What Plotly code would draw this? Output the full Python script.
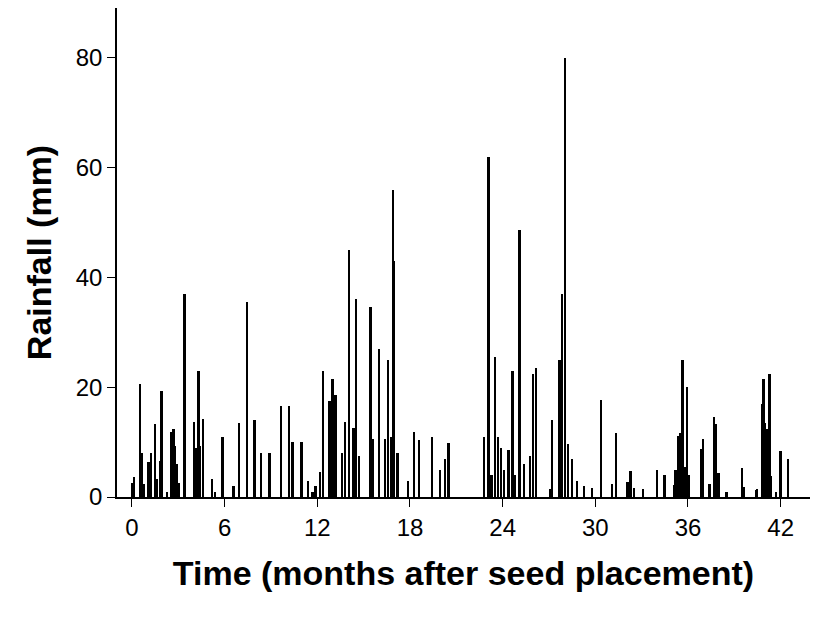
import plotly.graph_objects as go

# rainfall events: time (months) and rainfall (mm)
months = [0.0, 0.15, 0.52, 0.65, 0.8, 1.08, 1.26, 1.5, 1.65, 1.82, 1.93, 2.3, 2.57, 2.7, 2.81, 2.92, 3.03,
          3.42, 4.05, 4.18, 4.33, 4.44, 4.63, 5.2, 5.38, 5.87,
          6.6, 6.93, 7.47, 7.94, 8.38, 8.92, 9.65, 10.2, 10.4, 11.0, 11.4, 11.7, 11.9, 12.2, 12.4, 12.8,
          13.0, 13.2, 13.6, 13.8, 14.07, 14.37, 14.5, 14.7, 15.47, 15.6, 16.0, 16.4, 16.6, 16.77, 16.9,
          17.0, 17.2, 17.9, 18.26, 18.6, 19.45, 19.95, 20.27, 20.5,
          22.8, 23.1, 23.3, 23.5, 23.7, 23.9, 24.1, 24.4, 24.65, 24.8, 25.1, 25.4, 25.8, 26.0, 26.16,
          27.07, 27.2, 27.7, 27.84, 28.07, 28.26, 28.5, 28.84, 29.3, 29.8,
          30.4, 31.1, 31.35, 32.1, 32.3, 32.5, 33.1, 34.0, 34.5, 35.1, 35.2, 35.35, 35.5, 35.66, 35.8,
          35.94, 36.1, 36.85, 37.0, 37.4, 37.7, 37.85, 38.0, 38.5, 39.5, 39.6, 40.4, 40.5, 40.8, 40.9,
          41.0, 41.15, 41.3, 41.4, 41.7, 42.0, 42.5]
rainfall = [2.6, 3.6, 20.5, 8, 2.3, 6.3, 8, 13.3, 3.3, 6.5, 19.3, 1, 11.8, 12.3, 9.3, 6, 2.5,
            37, 13.7, 9, 23, 9.3, 14.2, 3.3, 1, 11,
            2, 13.5, 35.5, 14, 8, 8, 16.5, 16.5, 10, 10, 3, 1, 2, 4.5, 23, 17.5,
            21.5, 18.5, 8, 13.7, 45, 12.5, 36, 7.5, 34.6, 10.5, 27, 10.5, 25, 11, 56,
            43, 8, 3, 11.8, 10.3, 11, 5, 7, 9.8,
            11, 62, 4, 25.5, 11, 9, 5, 8.5, 23, 4, 48.6, 6, 7.5, 22.5, 23.5,
            1.5, 14, 25, 37, 80, 9.6, 7, 3, 2, 1.7,
            17.6, 2.4, 11.6, 2.7, 4.8, 1.6, 1.5, 5, 4, 2.2, 5, 11.2, 11.7, 25, 5.5,
            20, 4, 8.8, 10.5, 2.3, 14.5, 13.3, 4.4, 0.9, 5.3, 1.8, 1.3, 1.5, 16.9, 21.5,
            13.5, 12.3, 22.5, 3.8, 0.9, 8.3, 7]

x_ticks = [0, 6, 12, 18, 24, 30, 36, 42]
y_ticks = [0, 20, 40, 60, 80]

fig = go.Figure()
fig.add_trace(go.Bar(x=months, y=rainfall, width=0.12,
                     marker=dict(color="black", line=dict(width=0))))

font = "Liberation Sans, Arial, sans-serif"
fig.update_layout(
    width=827, height=624,
    margin=dict(l=109, r=25, t=0, b=135),
    plot_bgcolor="white", paper_bgcolor="white",
    showlegend=False, bargap=0,
    font=dict(family=font, size=24, color="black"),
)
fig.update_xaxes(range=[-0.97, 43.9], tickvals=x_ticks, showgrid=False, zeroline=False,
                 showline=True, linecolor="black", linewidth=1.5,
                 ticks="outside", ticklen=8, tickcolor="black",
                 title=dict(text="<b>Time (months after seed placement)</b>",
                            font=dict(size=34), standoff=22))
fig.update_yaxes(range=[0, 89.1], tickvals=y_ticks, showgrid=False, zeroline=False,
                 showline=True, linecolor="black", linewidth=1.5,
                 ticks="outside", ticklen=8, tickcolor="black",
                 title=dict(text="<b>Rainfall (mm)</b>", font=dict(size=34), standoff=14))

fig.write_html("out.html")
